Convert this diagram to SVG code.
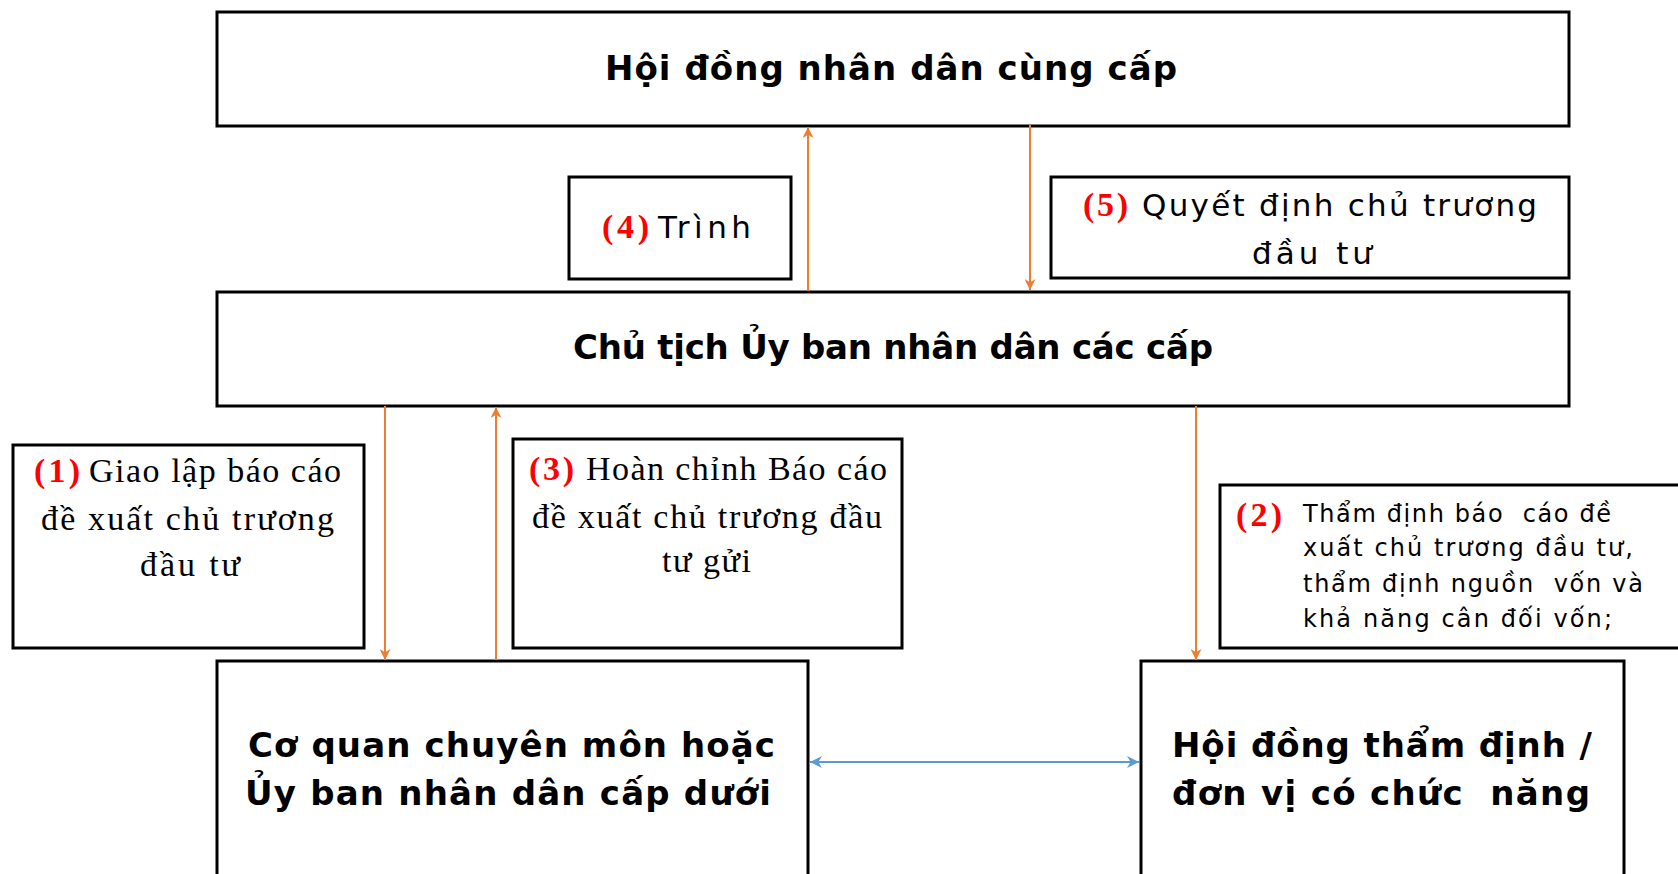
<svg xmlns="http://www.w3.org/2000/svg" width="1678" height="874" viewBox="0 0 1678 874">
  <defs>
    <style>
      .box { fill: #fff; stroke: #000; stroke-width: 3; }
      .sans { font-family: "DejaVu Sans", "Noto Sans", sans-serif; fill: #000; }
      .serif { font-family: "Liberation Serif", "Times New Roman", serif; fill: #000; }
      .num { font-family: "Liberation Serif", "Times New Roman", serif; font-weight: bold; fill: #f00; }
      .big { font-size: 34px; font-weight: bold; }
      .mid { font-size: 31px; }
      .ser { font-size: 34px; }
      .small { font-size: 24px; }
      .flow { stroke: #ED7D31; stroke-width: 2; fill: none; }
      .link { stroke: #5B9BD5; stroke-width: 2; fill: none; }
      text { white-space: pre; }
    </style>
    <marker id="ah-orange" markerUnits="userSpaceOnUse" markerWidth="11" markerHeight="11" viewBox="0 0 10 10" refX="10" refY="5" orient="auto">
      <path d="M0,0 L10,5 L0,10 L3,5 Z" fill="#ED7D31"/>
    </marker>
    <marker id="ah-blue" markerUnits="userSpaceOnUse" markerWidth="12" markerHeight="12" viewBox="0 0 10 10" refX="10" refY="5" orient="auto-start-reverse">
      <path d="M0,0 L10,5 L0,10 L3,5 Z" fill="#5B9BD5"/>
    </marker>
  </defs>

  <rect width="1678" height="874" fill="#fff"/>

  <!-- Top level: People's Council -->
  <g id="hdnd">
    <rect class="box" x="217" y="12" width="1352" height="114"/>
    <text class="sans big" x="605" y="80" textLength="572" lengthAdjust="spacing">Hội đồng nhân dân cùng cấp</text>
  </g>

  <!-- Step 4 label -->
  <g id="step4">
    <rect class="box" x="569" y="177" width="222" height="102"/>
    <text class="num ser" x="602" y="238" textLength="47" lengthAdjust="spacing">(4)</text>
    <text class="sans mid" x="658" y="238" textLength="93" lengthAdjust="spacing">Trình</text>
  </g>

  <!-- Step 5 label -->
  <g id="step5">
    <rect class="box" x="1051" y="177" width="518" height="101"/>
    <text class="num ser" x="1083" y="216" textLength="45" lengthAdjust="spacing">(5)</text>
    <text class="sans mid" x="1142" y="216" textLength="395" lengthAdjust="spacing">Quyết định chủ trương</text>
    <text class="sans mid" x="1252" y="264" textLength="120" lengthAdjust="spacing">đầu tư</text>
  </g>

  <!-- Chairman -->
  <g id="chutich">
    <rect class="box" x="217" y="292" width="1352" height="114"/>
    <text class="sans big" x="573" y="359" textLength="640" lengthAdjust="spacing">Chủ tịch Ủy ban nhân dân các cấp</text>
  </g>

  <!-- Step 1 label -->
  <g id="step1">
    <rect class="box" x="13" y="445" width="351" height="203"/>
    <text class="num ser" x="34" y="482" textLength="46" lengthAdjust="spacing">(1)</text>
    <text class="serif ser" x="89" y="482" textLength="252" lengthAdjust="spacing">Giao lập báo cáo</text>
    <text class="serif ser" x="41" y="530" textLength="293" lengthAdjust="spacing">đề xuất chủ trương</text>
    <text class="serif ser" x="140" y="576" textLength="100" lengthAdjust="spacing">đầu tư</text>
  </g>

  <!-- Step 3 label -->
  <g id="step3">
    <rect class="box" x="513" y="439" width="389" height="209"/>
    <text class="num ser" x="529" y="480" textLength="45" lengthAdjust="spacing">(3)</text>
    <text class="serif ser" x="586" y="480" textLength="301" lengthAdjust="spacing">Hoàn chỉnh Báo cáo</text>
    <text class="serif ser" x="532" y="528" textLength="350" lengthAdjust="spacing">đề xuất chủ trương đầu</text>
    <text class="serif ser" x="662" y="572" textLength="89" lengthAdjust="spacing">tư gửi</text>
  </g>

  <!-- Step 2 label -->
  <g id="step2">
    <rect class="box" x="1220" y="485" width="470" height="163"/>
    <text class="num ser" x="1236" y="526" textLength="46" lengthAdjust="spacing">(2)</text>
    <text class="sans small" x="1303" y="522" textLength="308" lengthAdjust="spacing">Thẩm định báo  cáo đề</text>
    <text class="sans small" x="1303" y="556" textLength="330" lengthAdjust="spacing">xuất chủ trương đầu tư,</text>
    <text class="sans small" x="1303" y="592" textLength="340" lengthAdjust="spacing">thẩm định nguồn  vốn và</text>
    <text class="sans small" x="1303" y="627" textLength="309" lengthAdjust="spacing">khả năng cân đối vốn;</text>
  </g>

  <!-- Specialized agency -->
  <g id="coquan">
    <rect class="box" x="217" y="661" width="591" height="240"/>
    <text class="sans big" x="248" y="757" textLength="527" lengthAdjust="spacing">Cơ quan chuyên môn hoặc</text>
    <text class="sans big" x="245" y="805" textLength="526" lengthAdjust="spacing">Ủy ban nhân dân cấp dưới</text>
  </g>

  <!-- Appraisal council -->
  <g id="hoidong">
    <rect class="box" x="1141" y="661" width="483" height="240"/>
    <text class="sans big" x="1172" y="757" textLength="420" lengthAdjust="spacing">Hội đồng thẩm định /</text>
    <text class="sans big" x="1172" y="805" textLength="418" lengthAdjust="spacing">đơn vị có chức  năng</text>
  </g>

  <!-- Connectors -->
  <g id="connectors">
    <line class="flow" x1="808" y1="291" x2="808" y2="127" marker-end="url(#ah-orange)"/>
    <line class="flow" x1="1030" y1="125" x2="1030" y2="290" marker-end="url(#ah-orange)"/>
    <line class="flow" x1="385" y1="406" x2="385" y2="660" marker-end="url(#ah-orange)"/>
    <line class="flow" x1="496" y1="660" x2="496" y2="407" marker-end="url(#ah-orange)"/>
    <line class="flow" x1="1196" y1="406" x2="1196" y2="660" marker-end="url(#ah-orange)"/>
    <line class="link" x1="810" y1="762" x2="1139" y2="762" marker-start="url(#ah-blue)" marker-end="url(#ah-blue)"/>
  </g>
</svg>
